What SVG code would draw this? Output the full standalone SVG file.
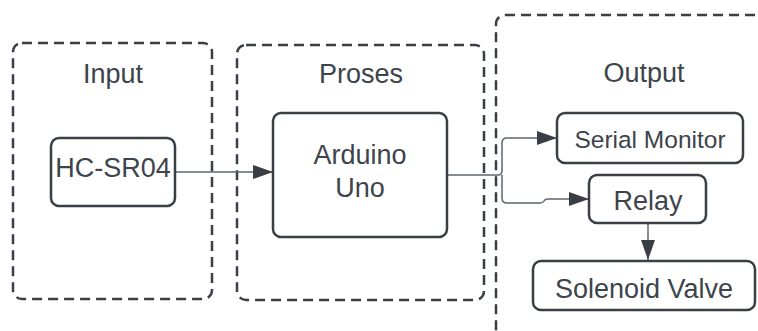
<svg xmlns="http://www.w3.org/2000/svg" width="758" height="331" viewBox="0 0 758 331">
<style>
.grp{fill:none;stroke:#3a3f45;stroke-width:2.5;stroke-dasharray:10 6}
.box{fill:#fff;stroke:#3a3f45;stroke-width:2.5}
.lbl{font-family:"Liberation Sans",Arial,sans-serif;fill:#3d444c;text-anchor:middle;font-size:27px}
.con{fill:none;stroke:#5f6670;stroke-width:1.5}
</style>
<defs>
<marker id="ah" viewBox="0 0 20 14" refX="20" refY="7" markerWidth="20" markerHeight="14" markerUnits="userSpaceOnUse" orient="auto">
<path d="M0,0 L20,7 L0,14 Z" fill="#3a3f45"/>
</marker>
</defs>
<rect fill="#fff" width="758" height="331"/>
<g id="group-input">
<rect class="grp" x="13" y="43" width="199" height="256" rx="9"/>
<text class="lbl" x="113" y="83">Input</text>
</g>
<g id="group-proses">
<rect class="grp" x="237" y="45" width="247" height="255" rx="9"/>
<text class="lbl" x="361" y="83">Proses</text>
</g>
<g id="group-output">
<rect class="grp" x="496" y="15" width="320" height="360" rx="9"/>
<text class="lbl" x="644" y="82">Output</text>
</g>
<g id="connectors">
<path class="con" d="M175,172 H273" marker-end="url(#ah)"/>
<path class="con" d="M447,175 H498 Q502,175 502,171 V143 Q502,138 507,138 H557" marker-end="url(#ah)"/>
<path class="con" d="M502,175 V198 Q502,203 507,203 H540 Q543,203 544,201 Q545,199 548,199 H589" marker-end="url(#ah)"/>
<path class="con" d="M648,223 V260" marker-end="url(#ah)"/>
</g>
<g id="node-hcsr04">
<rect class="box" x="51" y="138" width="124" height="68" rx="8"/>
<text class="lbl" x="113" y="177">HC-SR04</text>
</g>
<g id="node-arduino">
<rect class="box" x="273" y="113" width="174" height="124" rx="8"/>
<text class="lbl" x="360" y="164">Arduino</text>
<text class="lbl" x="360" y="197">Uno</text>
</g>
<g id="node-serial">
<rect class="box" x="557" y="113" width="186" height="50" rx="8"/>
<text class="lbl" x="650" y="148" style="font-size:24.5px">Serial Monitor</text>
</g>
<g id="node-relay">
<rect class="box" x="589" y="175" width="117" height="48" rx="8"/>
<text class="lbl" x="648" y="210">Relay</text>
</g>
<g id="node-solenoid">
<rect class="box" x="533" y="261" width="222" height="49" rx="8"/>
<text class="lbl" x="644" y="298">Solenoid Valve</text>
</g>
</svg>
